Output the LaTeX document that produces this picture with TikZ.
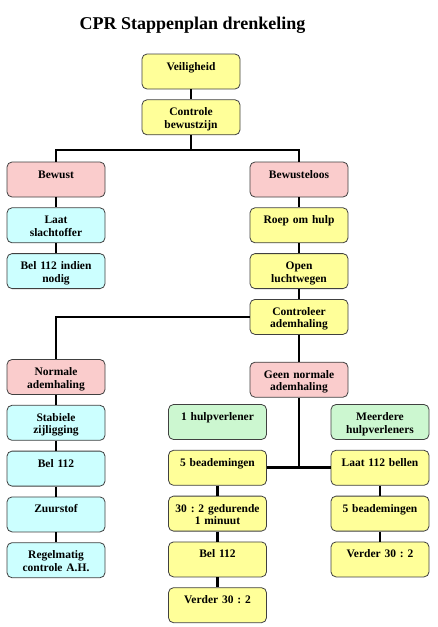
\documentclass[tikz,border=0pt]{standalone}
\usepackage{fontspec}
\setmainfont{Liberation Serif}
\usetikzlibrary{positioning}

\definecolor{geel}{HTML}{FFFF99}
\definecolor{roze}{HTML}{FACCCC}
\definecolor{blauw}{HTML}{CCFFFF}
\definecolor{groen}{HTML}{CCF7D0}

\begin{document}
\begin{tikzpicture}[
            x = 1pt, y = -1pt, % pixel coordinates, y downward
            node distance = 10pt, % gap between boxes
            line width = 2.8pt % connector style
        ]

        \tikzstyle{stap}=[
            draw = black!75,
            line width = 0.8pt,
            rounded corners = 5pt,
            text width = 92pt,
            inner xsep = 3pt,
            inner ysep = 3.5pt,
            text height = 12.5pt,
            text depth = 15.5pt,
            align = center,
            font = \bfseries\frenchspacing\fontsize{11.5}{12.5}\selectfont
        ]
        \tikzstyle{geelstap}=[stap, fill = geel]
        \tikzstyle{rozestap}=[stap, fill = roze]
        \tikzstyle{blauwstap}=[stap, fill = blauw]
        \tikzstyle{groenstap}=[stap, fill = groen]

        \fill[white] (0,0) rectangle (438,627);
        \useasboundingbox (0,0) rectangle (438,627);

        \node[anchor = base, font = \bfseries\fontsize{18}{20}\selectfont] (titel) at (192.5,29.5) {CPR Stappenplan drenkeling};

        % top
        \node[geelstap] (veilig) at (191,71.5) {Veiligheid};
        \node[geelstap] (controle) [below=of veilig] {Controle\\bewustzijn};

        % bewust
        \node[rozestap] (bewust) at (56,179.5) {Bewust};
        \node[blauwstap] (laat) [below=of bewust] {Laat\\slachtoffer};
        \node[blauwstap] (belnodig) [below=of laat] {Bel 112 indien\\nodig};

        % bewusteloos
        \node[rozestap] (bewusteloos) at (299,179.5) {Bewusteloos};
        \node[geelstap] (roep) [below=of bewusteloos] {Roep om hulp};
        \node[geelstap] (open) [below=of roep] {Open\\luchtwegen};
        \node[geelstap] (controleer) [below=of open] {Controleer\\ademhaling};

        % normale ademhaling
        \node[rozestap] (normaal) at (56,377) {Normale\\ademhaling};
        \node[blauwstap] (stabiel) [below=of normaal] {Stabiele\\zijligging};
        \node[blauwstap] (bel) [below=of stabiel] {Bel 112};
        \node[blauwstap] (zuurstof) [below=of bel] {Zuurstof};
        \node[blauwstap] (regelmatig) [below=of zuurstof] {Regelmatig\\controle A.H.};

        % geen normale ademhaling
        \node[rozestap] (geen) [below=27pt of controleer] {Geen normale\\ademhaling};

        \node[groenstap] (een) at (217.5,422) {1 hulpverlener};
        \node[geelstap] (beadem) [below=of een] {5 beademingen};
        \node[geelstap] (dertig) [below=of beadem] {30 : 2 gedurende\\1 minuut};
        \node[geelstap] (beleen) [below=of dertig] {Bel 112};
        \node[geelstap] (verder) [below=of beleen] {Verder 30 : 2};

        \node[groenstap] (meer) at (380,422) {Meerdere\\hulpverleners};
        \node[geelstap] (laatbel) [below=of meer] {Laat 112 bellen};
        \node[geelstap] (beadem2) [below=of laatbel] {5 beademingen};
        \node[geelstap] (verder2) [below=of beadem2] {Verder 30 : 2};

        \coordinate (tak) at (191,150);

        \path (veilig) edge (controle);
        \path (controle) edge (tak);
        \draw (bewust.north) |- (tak) -| (bewusteloos.north);

        \path (bewust) edge (laat);
        \path (laat) edge (belnodig);

        \path (bewusteloos) edge (roep);
        \path (roep) edge (open);
        \path (open) edge (controleer);
        \path (controleer) edge (geen);
        \draw (controleer.west) -| (normaal.north);

        \path (normaal) edge (stabiel);
        \path (stabiel) edge (bel);
        \path (bel) edge (zuurstof);
        \path (zuurstof) edge (regelmatig);

        \draw (geen.south) -- (geen.south |- beadem.east);
        \path (beadem) edge (laatbel);

        \path (beadem) edge (dertig);
        \path (dertig) edge (beleen);
        \path (beleen) edge (verder);

        \path (laatbel) edge (beadem2);
        \path (beadem2) edge (verder2);
    \end{tikzpicture}
\end{document}
